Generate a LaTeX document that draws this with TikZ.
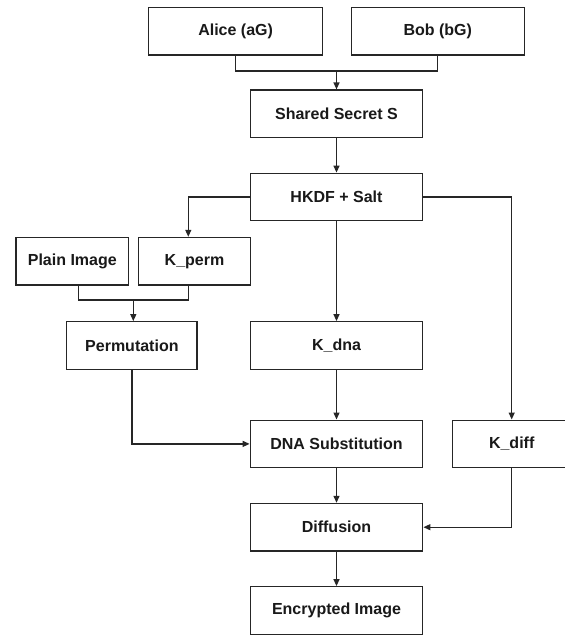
\documentclass[tikz,border=0pt]{standalone}
\usepackage{fontspec}
\setmainfont{Liberation Sans}
\usetikzlibrary{arrows.meta,calc}
\begin{document}
\begin{tikzpicture}[x=1pt,y=-1pt,
  box/.style={draw=black!85, line width=1.3pt, fill=white, minimum height=47.5pt, inner sep=0pt,
    font=\bfseries\fontsize{16}{19}\selectfont, text=black!90},
  wire/.style={draw=black!85, line width=1.3pt},
  arr/.style={wire, -{Triangle[length=7pt,width=6pt]}}]
\useasboundingbox (0,0) rectangle (565,635);
\node[box, minimum width=173.7pt] (alice) at (235.6,31.2) {Alice (aG)};
\node[box, minimum width=173pt] (bob) at (437.8,31.2) {Bob (bG)};
\node[box, minimum width=172.5pt] (shared) at (336.5,113.8) {Shared Secret S};
\node[box, minimum width=172.5pt] (hkdf) at (336.5,197) {HKDF + Salt};
\node[box, minimum width=112.5pt] (plain) at (72.3,261.2) {Plain Image};
\node[box, minimum width=112pt] (kperm) at (194.5,261.2) {K\_perm};
\node[box, minimum width=130.4pt] (perm) at (131.9,345.5) {Permutation};
\node[box, minimum width=172.5pt] (kdna) at (336.5,345.5) {K\_dna};
\node[box, minimum width=172.5pt] (dna) at (336.5,443.9) {DNA Substitution};
\node[box, minimum width=119pt] (kdiff) at (511.7,443.9) {K\_diff};
\node[box, minimum width=172.5pt] (diff) at (336.5,527.2) {Diffusion};
\node[box, minimum width=172.5pt] (enc) at (336.5,610.5) {Encrypted Image};
% joins
\coordinate (j1) at (336.5,71);
\coordinate (j2) at (133.3,300);
\draw[wire] (alice.south) |- (j1);
\draw[wire] (bob.south) |- (j1);
\draw[arr] (j1) -- (shared.north);
\draw[arr] (shared) -- (hkdf);
\draw[arr] (hkdf.west) -| ($(kperm.north)+(-6.2,0)$);
\draw[arr] (hkdf) -- (kdna);
\draw[arr] (hkdf.east) -| (kdiff.north);
\draw[wire] ($(plain.south)+(6,0)$) |- (j2);
\draw[wire] ($(kperm.south)+(-6.2,0)$) |- (j2);
\draw[arr] (j2) -- (j2 |- perm.north);
\draw[arr] (perm.south) |- (dna.west);
\draw[arr] (kdna) -- (dna);
\draw[arr] (dna) -- (diff);
\draw[arr] (kdiff.south) |- (diff.east);
\draw[arr] (diff) -- (enc);
\end{tikzpicture}
\end{document}
